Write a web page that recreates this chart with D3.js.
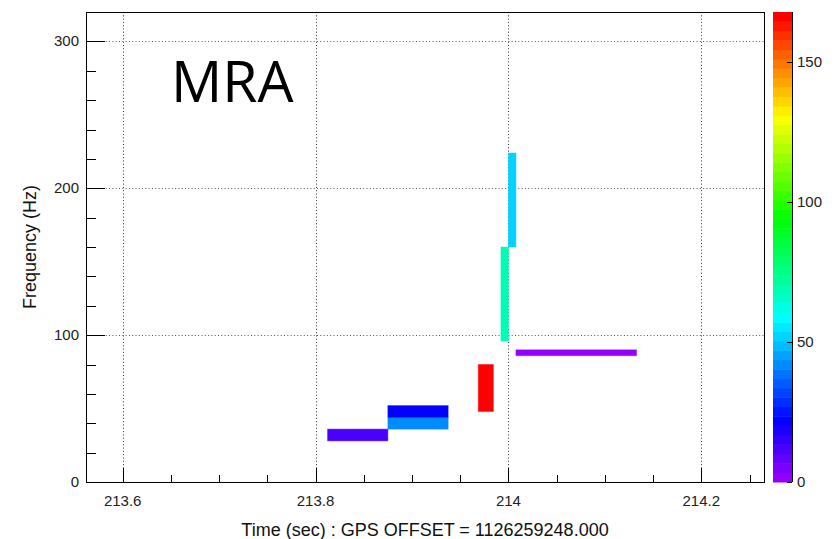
<!DOCTYPE html>
<html>
<head>
<meta charset="utf-8">
<script src="https://cdn.jsdelivr.net/npm/d3@7"></script>
<style>
  body { margin: 0; background: #fff; }
  svg { display: block; }
  .ticklabel { font-family: "Liberation Sans", Arial, sans-serif; font-size: 15px; fill: #222; }
  .axistitle { font-family: "Liberation Sans", Arial, sans-serif; font-size: 18px; fill: #111; }
  .bigtitle { font-family: "Open Sans", sans-serif; font-size: 57px; fill: #000; }
</style>
</head>
<body>
<svg id="chart" width="836" height="539"></svg>
<script>
// time-frequency tiles (pixels of the MRA)
var tileStart = [213.8125, 213.875, 213.875, 213.96875, 213.9921875, 214.0, 214.0078];
var tileEnd   = [213.875, 213.9375, 213.9375, 213.984375, 214.0, 214.0078125, 214.1328];
var freqLow   = [28, 36, 44, 48, 96, 160, 86];
var freqHigh  = [36, 44, 52, 80, 160, 224, 90];
var tileValue = [12, 42, 22, 168, 69, 52, 2];

var timeTicks = [213.6, 213.8, 214, 214.2];
var timeTickLabels = ["213.6", "213.8", "214", "214.2"];
var freqTicks = [0, 100, 200, 300];
var zTicks = [0, 50, 100, 150];

var timeRange = [213.562, 214.265];
var freqRange = [0, 320];
var zRange = [0, 168];

// draw the chart
function drawChart() {
	var svg = d3.select("#chart");
	var frame = { left: 86, top: 12, width: 678, height: 470 };
	var bar = { left: 773, width: 19 };
	var nColors = 50;

	// ROOT "pretty" palette: violet -> red in HLS
	function paletteColor(i) {
		if (i >= nColors - 1) return d3.hsl(0, 1, 0.5).toString();
		var hue = 280 - (i + 1) * (280 / nColors);
		return d3.hsl(hue, 1, 0.5).toString();
	}
	function valueColor(v) {
		var i = Math.floor((v - zRange[0]) / (zRange[1] - zRange[0]) * nColors);
		i = Math.max(0, Math.min(nColors - 1, i));
		return paletteColor(i);
	}

	var x = d3.scaleLinear().domain(timeRange).range([0, frame.width]);
	var y = d3.scaleLinear().domain(freqRange).range([frame.height, 0]);
	var z = d3.scaleLinear().domain(zRange).range([frame.height, 0]);

	var chart = svg.append("g")
		.attr("transform", "translate(" + frame.left + "," + frame.top + ")");

	// grid
	chart.selectAll(".xgrid")
		.data(timeTicks)
	  .enter().append("line")
		.attr("x1", function(d) { return Math.round(x(d)) + 0.5; })
		.attr("x2", function(d) { return Math.round(x(d)) + 0.5; })
		.attr("y1", 0)
		.attr("y2", frame.height)
		.attr("stroke", "#333")
		.attr("stroke-dasharray", "1,2.3");
	chart.selectAll(".ygrid")
		.data(freqTicks.filter(function(d) { return d > 0; }))
	  .enter().append("line")
		.attr("x1", 0)
		.attr("x2", frame.width)
		.attr("y1", function(d) { return Math.round(y(d)) + 0.5; })
		.attr("y2", function(d) { return Math.round(y(d)) + 0.5; })
		.attr("stroke", "#555")
		.attr("stroke-dasharray", "1,2.3");

	// tiles
	var tiles = tileStart.map(function(t, i) {
		return { t0: t, t1: tileEnd[i], f0: freqLow[i], f1: freqHigh[i], v: tileValue[i] };
	});
	chart.selectAll(".tile")
		.data(tiles)
	  .enter().append("rect")
		.attr("class", "tile")
		.attr("x", function(d) { return x(d.t0); })
		.attr("y", function(d) { return y(d.f1); })
		.attr("width", function(d) { return x(d.t1) - x(d.t0); })
		.attr("height", function(d) { return y(d.f0) - y(d.f1); })
		.attr("fill", function(d) { return valueColor(d.v); })
		.attr("stroke", function(d) { return valueColor(d.v); })
		.attr("stroke-opacity", 0.45)
		.attr("stroke-width", 1);

	// ticks point inward, ROOT style
	var xMinor = d3.range(0, 14).map(function(i) { return 213.6 + i * 0.05; })
		.filter(function(d) { return d <= timeRange[1]; });
	chart.selectAll(".xtick")
		.data(xMinor)
	  .enter().append("line")
		.attr("x1", function(d) { return Math.round(x(d)) + 0.5; })
		.attr("x2", function(d) { return Math.round(x(d)) + 0.5; })
		.attr("y1", frame.height)
		.attr("y2", function(d, i) { return frame.height - (i % 4 === 0 ? 14 : 7); })
		.attr("stroke", "#000");

	var yMinor = d3.range(0, 17).map(function(i) { return i * 20; })
		.filter(function(d) { return d > 0 && d < freqRange[1]; });
	chart.selectAll(".ytick")
		.data(yMinor)
	  .enter().append("line")
		.attr("x1", 0)
		.attr("x2", function(d) { return d % 100 === 0 ? 19 : 10; })
		.attr("y1", function(d) { return Math.round(y(d)) + 0.5; })
		.attr("y2", function(d) { return Math.round(y(d)) + 0.5; })
		.attr("stroke", "#000");

	// frame
	chart.append("rect")
		.attr("x", 0.5)
		.attr("y", 0.5)
		.attr("width", frame.width)
		.attr("height", frame.height)
		.attr("fill", "none")
		.attr("stroke", "#000");

	// tick labels
	chart.selectAll(".xlabel")
		.data(timeTicks)
	  .enter().append("text")
		.attr("class", "ticklabel")
		.attr("x", function(d) { return x(d); })
		.attr("y", frame.height + 24)
		.attr("text-anchor", "middle")
		.text(function(d, i) { return timeTickLabels[i]; });
	chart.selectAll(".ylabel")
		.data(freqTicks)
	  .enter().append("text")
		.attr("class", "ticklabel")
		.attr("x", -7)
		.attr("y", function(d) { return y(d) + 5; })
		.attr("text-anchor", "end")
		.text(function(d) { return d; });

	// axis titles
	chart.append("text")
		.attr("class", "axistitle")
		.attr("x", frame.width / 2)
		.attr("y", frame.height + 54)
		.attr("text-anchor", "middle")
		.text("Time (sec) : GPS OFFSET = 1126259248.000");
	chart.append("text")
		.attr("class", "axistitle")
		.attr("transform", "rotate(-90)")
		.attr("x", -frame.height / 2)
		.attr("y", -50)
		.attr("text-anchor", "middle")
		.text("Frequency (Hz)");

	// big label
	chart.append("text")
		.attr("class", "bigtitle")
		.attr("x", 85)
		.attr("y", 90)
		.text("MRA");

	// colour bar
	var cbar = svg.append("g")
		.attr("transform", "translate(" + bar.left + "," + frame.top + ")");
	var step = (zRange[1] - zRange[0]) / nColors;
	cbar.selectAll(".band")
		.data(d3.range(nColors))
	  .enter().append("rect")
		.attr("x", 0)
		.attr("width", bar.width)
		.attr("y", function(i) { return z(zRange[0] + (i + 1) * step); })
		.attr("height", function(i) { return z(zRange[0] + i * step) - z(zRange[0] + (i + 1) * step) + 0.5; })
		.attr("fill", function(i) { return paletteColor(i); });
	cbar.append("line")
		.attr("x1", bar.width + 0.5)
		.attr("x2", bar.width + 0.5)
		.attr("y1", 0)
		.attr("y2", frame.height)
		.attr("stroke", "#000");
	cbar.selectAll(".ztick")
		.data(zTicks)
	  .enter().append("line")
		.attr("x1", bar.width - 5)
		.attr("x2", bar.width)
		.attr("y1", function(d) { return Math.round(z(d)) + 0.5; })
		.attr("y2", function(d) { return Math.round(z(d)) + 0.5; })
		.attr("stroke", "#000");
	cbar.selectAll(".zlabel")
		.data(zTicks)
	  .enter().append("text")
		.attr("class", "ticklabel")
		.attr("x", bar.width + 5)
		.attr("y", function(d) { return z(d) + 5; })
		.text(function(d) { return d; });
}

drawChart();
</script>
</body>
</html>
